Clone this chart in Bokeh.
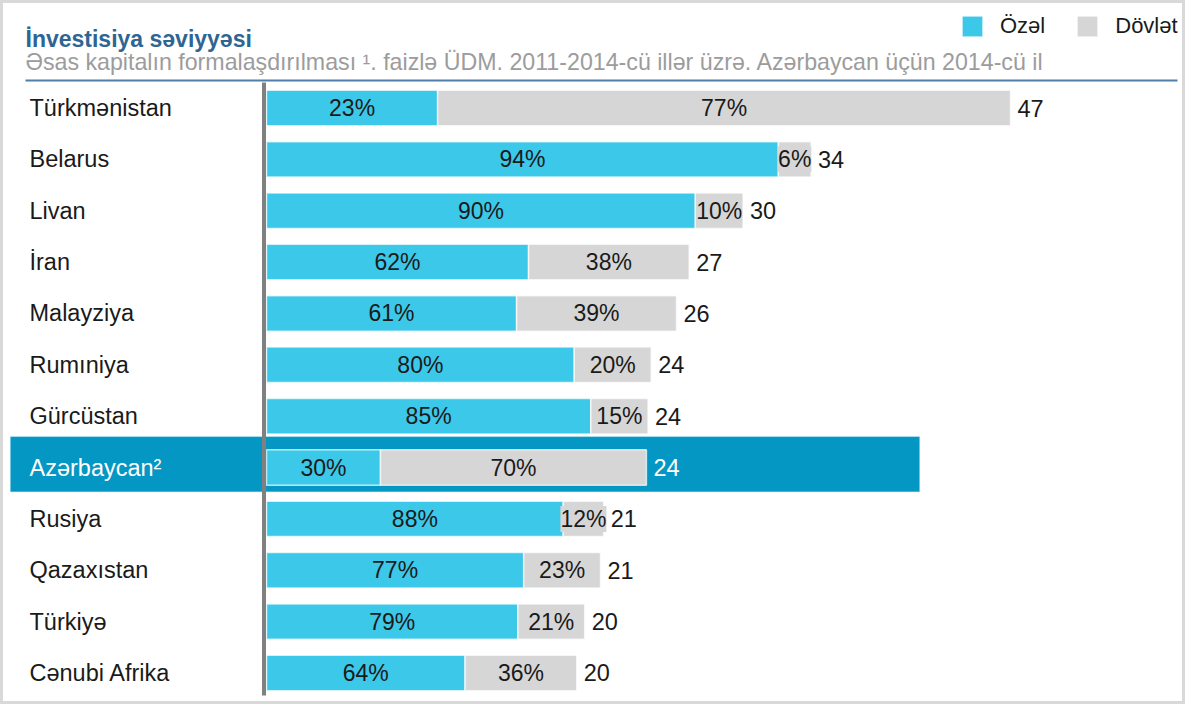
from bokeh.plotting import figure
from bokeh.models import Range1d, ColumnDataSource, Legend, LegendItem, BoxAnnotation
from bokeh.embed import file_html
from bokeh.resources import INLINE
from bokeh.core.properties import value

# ---------------- data ----------------
countries = ["Türkmənistan", "Belarus", "Livan", "İran", "Malayziya", "Rumıniya",
             "Gürcüstan", "Azərbaycan²", "Rusiya", "Qazaxıstan", "Türkiyə", "Cənubi Afrika"]
totals = [47.0, 34.4, 30.1, 26.7, 25.9, 24.3, 24.1, 24.0, 21.3, 21.1, 20.1, 19.6]
private_pct = [23, 94, 90, 62, 61, 80, 85, 30, 88, 77, 79, 64]
state_pct = [77, 6, 10, 38, 39, 20, 15, 70, 12, 23, 21, 36]
highlight = "Azərbaycan²"
series_names = ["Özəl", "Dövlət"]
title_text = "İnvestisiya səviyyəsi"
subtitle_text = ("Əsas kapitalın formalaşdırılması ¹. faizlə ÜDM. 2011-2014-cü illər üzrə. "
                 "Azərbaycan üçün 2014-cü il")

# ---------------- style ----------------
CYAN = "#3cc8e8"
GRAY = "#d6d6d6"
BAND = "#0497c3"
TITLE_C = "#2e6592"
SUB_C = "#9c9c9c"
RULE_C = "#4f7fa6"
TXT = "#1a1a1a"
FONT_NAME = "Liberation Sans"
FONT = value(FONT_NAME)

W, H = 1185, 704
X0 = 266.0          # canvas px of value 0
PPU = 15.83         # px per unit
R0 = 107.5          # canvas px of first row centre
STEP = 51.36        # px per row


def px2x(px):
    return (px - X0) / PPU


def px2y(py):
    return (py - R0) / STEP


p = figure(width=W, height=H, output_backend="svg", toolbar_location=None,
           x_range=Range1d(px2x(0), px2x(W)), y_range=Range1d(px2y(H), px2y(0)),
           x_axis_location=None, y_axis_location=None, min_border=0,
           outline_line_color="#d9d9d9", outline_line_width=5,
           background_fill_color="white", border_fill_color="white")
p.grid.visible = False

idx = list(range(len(countries)))
priv_end = [t * a / 100 for t, a in zip(totals, private_pct)]
is_hl = [c == highlight for c in countries]
src = ColumnDataSource(dict(
    y=idx,
    total=totals,
    priv_end=priv_end,
    priv_mid=[e / 2 for e in priv_end],
    state_mid=[(e + t) / 2 for e, t in zip(priv_end, totals)],
    priv_lbl=[f"{v}%" for v in private_pct],
    state_lbl=[f"{v}%" for v in state_pct],
    tot_lbl=[f"{round(t)}" for t in totals],
    name=countries,
    name_col=["white" if h else TXT for h in is_hl],
    tot_col=["white" if h else TXT for h in is_hl],
))

# highlight band
hi = countries.index(highlight)
p.add_layout(BoxAnnotation(left=px2x(10), right=px2x(919), top=hi - 0.6, bottom=hi + 0.47,
                           fill_color=BAND, fill_alpha=1, line_color="#4fc3e6",
                           line_width=1, level="underlay"))

bar_h = 0.69
r_priv = p.hbar(y="y", left=0, right="priv_end", height=bar_h, source=src,
                fill_color=CYAN, line_color="white", line_width=1.5, line_alpha=0.7)
r_state = p.hbar(y="y", left="priv_end", right="total", height=bar_h, source=src,
                 fill_color=GRAY, line_color="white", line_width=1.5, line_alpha=0.7)

# vertical axis line
p.segment(x0=px2x(263.5), x1=px2x(263.5), y0=px2y(82), y1=px2y(695),
          line_color="#808080", line_width=4)

# segment labels
p.text(x="priv_mid", y="y", text="priv_lbl", source=src, text_align="center",
       text_baseline="middle", text_font=FONT, text_font_size="23px", text_color=TXT)
p.text(x="state_mid", y="y", text="state_lbl", source=src, text_align="center",
       text_baseline="middle", text_font=FONT, text_font_size="23px", text_color=TXT,
       background_fill_color=GRAY)
p.text(x="total", y="y", text="tot_lbl", source=src, x_offset=7, text_align="left",
       text_baseline="middle", text_font=FONT, text_font_size="23.5px", text_color="tot_col")

# country labels
p.text(x=0, y="y", text="name", source=src, x_offset=-237, text_align="left",
       text_baseline="middle", text_font=FONT, text_font_size="23.5px", text_color="name_col")

# title, subtitle, rule
p.text(x=[px2x(25)], y=[px2y(38)], text=[title_text], text_font=FONT,
       text_font_size="23px", text_font_style="bold", text_color=TITLE_C,
       text_baseline="alphabetic")
p.text(x=[px2x(25)], y=[px2y(61)], text=[subtitle_text], text_font=FONT,
       text_font_size="23.2px", text_color=SUB_C, text_baseline="alphabetic")
p.segment(x0=px2x(25), x1=px2x(1177), y0=px2y(80), y1=px2y(80),
          line_color=RULE_C, line_width=2)

legend = Legend(items=[LegendItem(label=series_names[0], renderers=[r_priv]),
                       LegendItem(label=series_names[1], renderers=[r_state])],
                orientation="horizontal", location=(959, H - 39),
                padding=0, margin=0, spacing=29, label_standoff=15,
                glyph_width=26, glyph_height=26,
                label_text_font=FONT_NAME, label_text_font_size="22px", label_text_color=TXT,
                border_line_alpha=0, background_fill_alpha=0)
p.add_layout(legend)

open("out.html", "w").write(file_html(p, INLINE))
